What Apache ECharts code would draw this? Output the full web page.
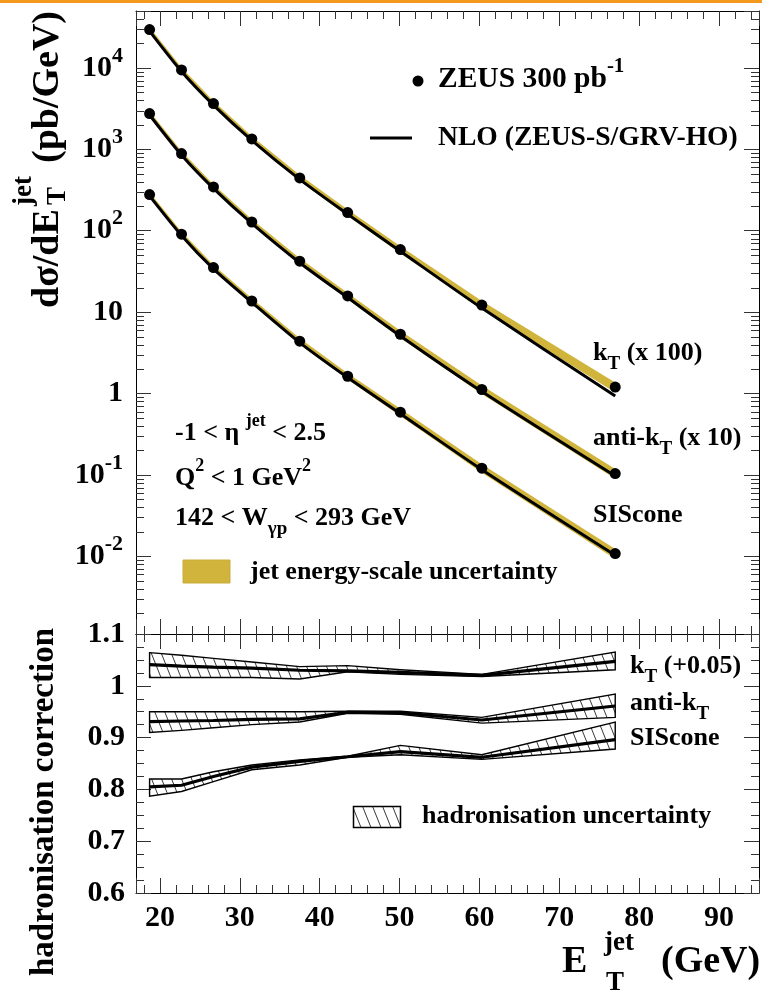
<!DOCTYPE html>
<html><head><meta charset="utf-8">
<script src="https://cdn.jsdelivr.net/npm/echarts@6/dist/echarts.min.js"></script>
<style>html,body{margin:0;padding:0;background:#fff}#c{width:762px;height:994px}</style>
</head><body><div id="c"></div>
<script>
// ---------------- data ----------------
const etBins = [18.7, 22.7, 26.7, 31.5, 37.5, 43.5, 50.1, 60.3, 77.0];

// top panel: cross sections (pb/GeV), kT x100, anti-kT x10
const ktData   = [29600, 9450, 3650, 1342, 445, 167, 58.7, 12.2, 1.2];
const ktNLO    = [28300, 9050, 3500, 1290, 428, 160, 56.0, 11.2, 0.93];
const aktData  = [2754, 888, 345, 128, 42.2, 15.8, 5.35, 1.12, 0.104];
const aktNLO   = [2640, 852, 331, 123, 40.5, 15.1, 5.1, 1.06, 0.097];
const sisData  = [278, 90.6, 35.3, 13.7, 4.39, 1.63, 0.59, 0.121, 0.0108];
const sisNLO   = [268, 87.5, 34.0, 13.2, 4.22, 1.57, 0.565, 0.116, 0.0103];
const esUnc    = [0.07, 0.07, 0.075, 0.08, 0.085, 0.09, 0.10, 0.12, 0.14];

// bottom panel: hadronisation corrections
const hadKt     = [1.041, 1.038, 1.036, 1.034, 1.030, 1.029, 1.026, 1.020, 1.047];
const hadKtLo   = [1.016, 1.016, 1.016, 1.016, 1.013, 1.027, 1.022, 1.018, 1.031];
const hadKtHi   = [1.064, 1.059, 1.053, 1.046, 1.037, 1.039, 1.031, 1.022, 1.065];
const hadAkt    = [0.931, 0.932, 0.933, 0.935, 0.936, 0.949, 0.948, 0.934, 0.961];
const hadAktLo  = [0.910, 0.914, 0.919, 0.925, 0.930, 0.947, 0.945, 0.928, 0.939];
const hadAktHi  = [0.950, 0.950, 0.950, 0.950, 0.950, 0.951, 0.951, 0.939, 0.984];
const hadSis    = [0.805, 0.808, 0.825, 0.843, 0.854, 0.863, 0.873, 0.862, 0.896];
const hadSisLo  = [0.787, 0.796, 0.815, 0.838, 0.847, 0.862, 0.867, 0.858, 0.878];
const hadSisHi  = [0.820, 0.820, 0.834, 0.847, 0.857, 0.864, 0.885, 0.867, 0.930];

// ticks
const xTickLabels = [20, 30, 40, 50, 60, 70, 80, 90];
const topDecades = [-2, -1, 0, 1, 2, 3, 4];
const topDecadeLabels = ['10{s|-2}', '10{s|-1}', '1', '10', '10{s|2}', '10{s|3}', '10{s|4}'];
const logMinorMult = [2, 3, 4, 5, 6, 7, 8, 9];
const botTickLabels = ['0.6', '0.7', '0.8', '0.9', '1', '1.1'];

// ---------------- style ----------------
const FONT = "'Liberation Serif', 'Times New Roman', serif";
const GOLD = '#d0b43c';
const TICK = '#333';

const chart = echarts.init(document.getElementById('c'), null, {renderer: 'canvas'});

// hatch pattern
const hatch = document.createElement('canvas');
hatch.width = 10; hatch.height = 25;
(function () {
  const c = hatch.getContext('2d');
  c.strokeStyle = '#222'; c.lineWidth = 0.9;
  for (const dx of [-10, 0, 10]) {
    c.beginPath(); c.moveTo(dx - 1, -2.5); c.lineTo(dx + 11, 27.5); c.stroke();
  }
})();
const hatchFill = {image: hatch, repeat: 'repeat'};

function richStyles(F) {
  const fs = Math.round(F * 0.73), fp = Math.round(F * 0.7);
  const LH = F + 16, H = LH / 2;
  return {
    lineHeight: LH,
    rich: {
      sub: {font: `bold ${fs}px ${FONT}`, fill: '#000', color: '#000', verticalAlign: 'bottom', lineHeight: 2 * (H - 0.29 * F)},
      sup: {font: `bold ${fp}px ${FONT}`, fill: '#000', color: '#000', verticalAlign: 'top', lineHeight: 2 * (H - 0.215 * F)}
    }
  };
}
function txt(x, y, text, F, opts) {
  opts = opts || {};
  const r = richStyles(F);
  return {
    type: 'text', x: x, y: y, rotation: opts.rotation || 0, silent: true, z: 100,
    style: {
      text: text, font: `bold ${F}px ${FONT}`, fill: '#000',
      align: opts.align || 'left', verticalAlign: 'middle',
      textAlign: opts.align || 'left', textVerticalAlign: 'middle',
      lineHeight: r.lineHeight, rich: r.rich
    }
  };
}

// ---------------- series helpers ----------------
function bandSeries(lo, hi, xi, yi, style) {
  return {
    type: 'custom', xAxisIndex: xi, yAxisIndex: yi, silent: true, z: 1, clip: false,
    data: [[etBins[0], hi[0]]],
    renderItem: function (params, api) {
      const pts = [];
      for (let i = 0; i < etBins.length; i++) pts.push(api.coord([etBins[i], hi[i]]));
      for (let i = etBins.length - 1; i >= 0; i--) pts.push(api.coord([etBins[i], lo[i]]));
      return {type: 'polygon', shape: {points: pts}, style: style};
    }
  };
}
function lineSeries(vals, xi, yi, w, z, smooth) {
  return {
    type: 'line', xAxisIndex: xi, yAxisIndex: yi, data: etBins.map((x, i) => [x, vals[i]]),
    showSymbol: false, symbol: 'none', smooth: smooth || false, silent: true, z: z,
    lineStyle: {color: '#000', width: w}
  };
}
function pointSeries(vals) {
  return {
    type: 'scatter', xAxisIndex: 0, yAxisIndex: 0, data: etBins.map((x, i) => [x, vals[i]]),
    symbol: 'circle', symbolSize: 11, itemStyle: {color: '#000', opacity: 1}, silent: true, z: 5
  };
}
function esLo(d) { return d.map((v, i) => v * (1 - esUnc[i])); }
function esHi(d) { return d.map((v, i) => v * (1 + esUnc[i])); }

const logMinorVals = [];
for (let e = -3; e <= 4; e++) for (const m of logMinorMult) {
  const v = m * Math.pow(10, e);
  if (v > 0.00112 && v < 49000) logMinorVals.push([20, v]);
}

const minorLogSeries = {
  type: 'custom', xAxisIndex: 0, yAxisIndex: 0, silent: true, z: 10, clip: false,
  data: logMinorVals,
  renderItem: function (params, api) {
    const cs = params.coordSys;
    const y = Math.round(api.coord([20, api.value(1)])[1]) + 0.5;
    const st = {stroke: TICK, lineWidth: 1};
    return {type: 'group', children: [
      {type: 'line', shape: {x1: cs.x, y1: y, x2: cs.x + 8, y2: y}, style: st},
      {type: 'line', shape: {x1: cs.x + cs.width, y1: y, x2: cs.x + cs.width - 8, y2: y}, style: st}
    ]};
  }
};

// ---------------- axes ----------------
const axisLine = {show: true, lineStyle: {color: '#000', width: 1}};
function xAx(grid, pos, labels) {
  return {
    type: 'value', gridIndex: grid, position: pos, min: 17, max: 95, splitNumber: 8,
    axisLine: axisLine, splitLine: {show: false},
    axisTick: {show: true, inside: true, length: 15, lineStyle: {color: TICK}},
    minorTick: {show: true, splitNumber: 5, length: 8, lineStyle: {color: TICK}},
    axisLabel: labels ? {
      show: true, margin: 10, color: '#000', fontSize: 30, fontWeight: 'bold', fontFamily: FONT,
      formatter: v => (xTickLabels.indexOf(Math.round(v)) >= 0 && Math.abs(v - Math.round(v)) < 1e-6) ? String(Math.round(v)) : ''
    } : {show: false}
  };
}
function yLog(pos, labels) {
  return {
    type: 'log', logBase: 10, gridIndex: 0, position: pos, min: 0.00111, max: 50100,
    axisLine: axisLine, splitLine: {show: false},
    axisTick: {show: true, inside: true, length: 15, lineStyle: {color: TICK}},
    minorTick: {show: false},
    axisLabel: labels ? {
      show: true, margin: 13, color: '#000', fontSize: 30, fontWeight: 'bold', fontFamily: FONT,
      lineHeight: 46,
      formatter: function (v) {
        const l = Math.log10(v), e = Math.round(l);
        if (Math.abs(l - e) > 1e-6) return '';
        const k = topDecades.indexOf(e);
        return k >= 0 ? topDecadeLabels[k] : '';
      },
      rich: {s: {fontSize: 22, fontWeight: 'bold', fontFamily: FONT, color: '#000', verticalAlign: 'top', lineHeight: 26}}
    } : {show: false}
  };
}
function yLin(pos, labels) {
  return {
    type: 'value', gridIndex: 1, position: pos, min: 0.6, max: 1.1, interval: 0.1,
    axisLine: axisLine, splitLine: {show: false},
    axisTick: {show: true, inside: true, length: 15, lineStyle: {color: TICK}},
    minorTick: {show: true, splitNumber: 4, length: 8, lineStyle: {color: TICK}},
    axisLabel: labels ? {
      show: true, margin: 11, color: '#000', fontSize: 30, fontWeight: 'bold', fontFamily: FONT,
      formatter: function (v) {
        const k = Math.round((v - 0.6) * 10);
        return (k >= 0 && k < botTickLabels.length && Math.abs(v - 0.6 - k * 0.1) < 1e-6) ? botTickLabels[k] : '';
      }
    } : {show: false}
  };
}

// ---------------- graphics ----------------
const graphics = [
  {type: 'rect', shape: {x: 0, y: 0, width: 762, height: 3}, style: {fill: '#f39a1e'}, silent: true},
  // top legend
  {type: 'circle', shape: {cx: 418, cy: 81, r: 5.5}, style: {fill: '#000'}, silent: true, z: 100},
  txt(438, 79, 'ZEUS 300 pb{sup|-1}', 29.5),
  {type: 'line', shape: {x1: 370, y1: 138, x2: 412, y2: 138}, style: {stroke: '#000', lineWidth: 3}, silent: true, z: 100},
  txt(438, 138, 'NLO (ZEUS-S/GRV-HO)', 27.6),
  // series labels top
  txt(593, 353, 'k{sub|T} (x 100)', 26),
  txt(593, 438, 'anti-k{sub|T} (x 10)', 26),
  txt(593, 515, 'SIScone', 26),
  // cuts
  txt(175, 433, '-1 < η {sup|jet} < 2.5', 26),
  txt(175, 478, 'Q{sup|2} < 1 GeV{sup|2}', 26),
  txt(175, 518, '142 < W{sub|γp} < 293 GeV', 26),
  {type: 'rect', shape: {x: 183, y: 560, width: 47, height: 23}, style: {fill: GOLD, stroke: '#c8ad3a', lineWidth: 1}, silent: true, z: 100},
  txt(250, 572, 'jet energy-scale uncertainty', 26),
  // bottom labels
  txt(630, 666, 'k{sub|T} (+0.05)', 26),
  txt(630, 703, 'anti-k{sub|T}', 26),
  txt(630, 738, 'SIScone', 26),
  {type: 'rect', shape: {x: 353.5, y: 806.5, width: 47, height: 21}, style: {fill: hatchFill, stroke: '#000', lineWidth: 1.5}, silent: true, z: 100},
  txt(422, 816, 'hadronisation uncertainty', 26),
  // y title top (rotated)
  txt(48, 308, 'dσ/dE', 38, {rotation: Math.PI / 2}),
  txt(24, 206, 'jet', 27, {rotation: Math.PI / 2}),
  txt(58, 205, 'T', 27, {rotation: Math.PI / 2}),
  txt(48, 163, '(pb/GeV)', 38, {rotation: Math.PI / 2}),
  // y title bottom
  txt(44, 802, 'hadronisation correction', 33, {rotation: Math.PI / 2, align: 'center'}),
  // x title
  txt(562, 962, 'E', 38),
  txt(604, 943, 'jet', 27),
  txt(606, 983, 'T', 27),
  txt(661, 962, '(GeV)', 38)
];

const option = {
  backgroundColor: '#fff',
  animation: false,
  grid: [
    {left: 136, right: 3, top: 11, height: 623, containLabel: false},
    {left: 136, right: 3, top: 634, height: 259, containLabel: false}
  ],
  xAxis: [xAx(0, 'bottom', false), xAx(0, 'top', false), xAx(1, 'bottom', true), xAx(1, 'top', false)],
  yAxis: [yLog('left', true), yLog('right', false), yLin('left', true), yLin('right', false)],
  series: [
    bandSeries(esLo(ktData), esHi(ktData), 0, 0, {fill: GOLD}),
    bandSeries(esLo(aktData), esHi(aktData), 0, 0, {fill: GOLD}),
    bandSeries(esLo(sisData), esHi(sisData), 0, 0, {fill: GOLD}),
    lineSeries(ktNLO, 0, 0, 3, 3, 0.25),
    lineSeries(aktNLO, 0, 0, 3, 3, 0.25),
    lineSeries(sisNLO, 0, 0, 3, 3, 0.25),
    pointSeries(ktData), pointSeries(aktData), pointSeries(sisData),
    minorLogSeries,
    bandSeries(hadKtLo, hadKtHi, 2, 2, {fill: hatchFill, stroke: '#000', lineWidth: 1.4}),
    bandSeries(hadAktLo, hadAktHi, 2, 2, {fill: hatchFill, stroke: '#000', lineWidth: 1.4}),
    bandSeries(hadSisLo, hadSisHi, 2, 2, {fill: hatchFill, stroke: '#000', lineWidth: 1.4}),
    lineSeries(hadKt, 2, 2, 3.2, 4),
    lineSeries(hadAkt, 2, 2, 3.2, 4),
    lineSeries(hadSis, 2, 2, 3.2, 4)
  ],
  graphic: graphics
};
chart.setOption(option);
</script>
</body></html>
